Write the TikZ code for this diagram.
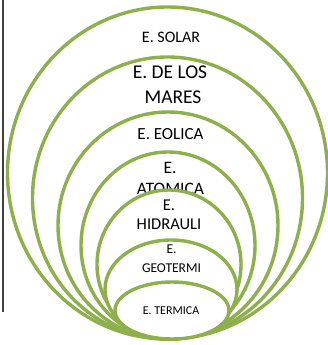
\documentclass[tikz,border=0pt]{standalone}
\usepackage{fontspec}
\setmainfont{Carlito}
\definecolor{ringgreen}{HTML}{8DB04C}
\tikzset{
  ring/.style={draw=ringgreen, line width=3.4pt, fill=white},
  lbl/.style={anchor=base, inner sep=0pt, align=center, text=black},
}
\begin{document}
\begin{tikzpicture}[x=1pt,y=-1pt]
\useasboundingbox (0,0) rectangle (328,345);
\draw[line width=1.2pt, black!75] (3,0) -- (3,312);
% rings, largest first, each label drawn before the next ring covers it
\path[ring] (167.5,173) ellipse [x radius=160, y radius=166];
\node[lbl, font=\fontsize{16}{19}\selectfont] (solar) at (171,43) {E. SOLAR};
\path[ring] (167.5,198) ellipse [x radius=135, y radius=141];
\node[lbl, font=\fontsize{19.5}{24}\selectfont] (mares1) at (170,78) {E. DE LOS};
\node[lbl, font=\fontsize{19.5}{24}\selectfont] (mares2) at (173,103) {MARES};
\path[ring] (168,225.5) ellipse [x radius=110, y radius=113.5];
\node[lbl, font=\fontsize{17}{20}\selectfont] (eolica) at (170.5,139) {E. EOLICA};
\path[ring] (168,245.5) ellipse [x radius=87, y radius=93.5];
\node[lbl, font=\fontsize{17.5}{20}\selectfont] (atom1) at (170,173) {E.};
\node[lbl, font=\fontsize{17.5}{20}\selectfont] (atom2) at (170.5,194) {ATOMICA};
\path[ring] (169,264.5) ellipse [x radius=72, y radius=74.5];
\node[lbl, font=\fontsize{16.5}{19}\selectfont] (hid1) at (169,210) {E.};
\node[lbl, font=\fontsize{16.5}{19}\selectfont] (hid2) at (169,229) {HIDRAULI};
\path[ring] (171,289.5) ellipse [x radius=66, y radius=49.5];
\node[lbl, font=\fontsize{13.5}{19}\selectfont] (geo1) at (171.5,253) {E.};
\node[lbl, font=\fontsize{13.5}{19}\selectfont] (geo2) at (171.5,272) {GEOTERMI};
\path[ring] (172,310.5) ellipse [x radius=57, y radius=28.5];
\node[lbl, font=\fontsize{12}{14}\selectfont] (term) at (171,314) {E. TERMICA};
\end{tikzpicture}
\end{document}
